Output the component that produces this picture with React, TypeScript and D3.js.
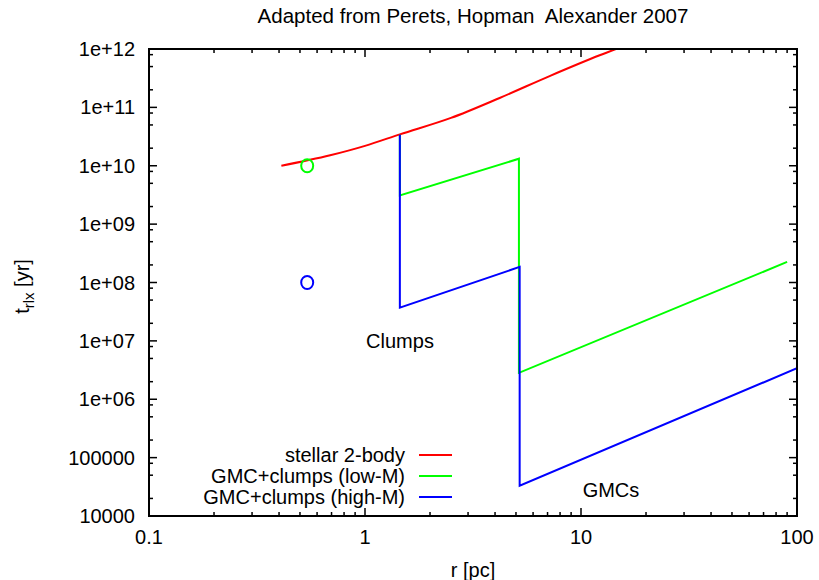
import React from "react";
import * as d3 from "d3";

const W = 819, H = 580;
const M = { left: 149, right: 797, top: 49, bottom: 516 };

const xTickVals = [0.1, 1, 10, 100];
const xTickLabels = ["0.1", "1", "10", "100"];
const yTickVals = [1e4, 1e5, 1e6, 1e7, 1e8, 1e9, 1e10, 1e11, 1e12];
const yTickLabels = ["10000", "100000", "1e+06", "1e+07", "1e+08", "1e+09", "1e+10", "1e+11", "1e+12"];
const xMinorMult = [2, 3, 4, 5, 6, 7, 8, 9];
const yMinorMult = [2, 5, 8];

// stellar 2-body relaxation time
const stellarR = [0.41, 0.69, 1.0, 1.45, 2.5, 4.2, 7.2, 12.2, 14.5, 20];
const stellarT = [1e10, 1.51e10, 2.19e10, 3.45e10, 6.6e10, 1.45e11, 3.47e11, 7.8e11, 1.0e12, 1.7e12];

// GMC+clumps (low-M)
const lowR = [1.45, 1.45, 5.16, 5.16, 90];
const lowT = [3.4e10, 3.1e9, 1.32e10, 2.83e6, 2.25e8];

// GMC+clumps (high-M)
const highR = [1.45, 1.45, 5.2, 5.2, 100];
const highT = [3.4e10, 3.7e7, 1.85e8, 3.3e4, 3.4e6];

// single points
const pointR = [0.54, 0.54];
const pointT = [1e10, 1e8];
const pointColors = ["#00ff00", "#0000ff"];

const seriesNames = ["stellar 2-body", "GMC+clumps (low-M)", "GMC+clumps (high-M)"];
const seriesColors = ["#ff0000", "#00ff00", "#0000ff"];

const FONT = "'Liberation Sans', Arial, Helvetica, sans-serif";

export default function App() {
  const x = d3.scaleLog().domain([0.1, 100]).range([M.left, M.right]);
  const y = d3.scaleLog().domain([1e4, 1e12]).range([M.bottom, M.top]);

  const line = d3
    .line<[number, number]>()
    .x((d) => x(d[0]))
    .y((d) => y(d[1]));
  const curve = d3
    .line<[number, number]>()
    .x((d) => x(d[0]))
    .y((d) => y(d[1]))
    .curve(d3.curveMonotoneX);

  const zip = (a: number[], b: number[]) => a.map((v, i) => [v, b[i]] as [number, number]);

  const xMinor: number[] = [];
  for (let k = 0.1; k < 100; k *= 10) xMinorMult.forEach((m) => xMinor.push(k * m));
  const yMinor: number[] = [];
  for (let e = 4; e < 12; e++) yMinorMult.forEach((m) => yMinor.push(m * Math.pow(10, e)));

  const fs = 20;
  const major = 8, minor = 4;

  return (
    <svg width={W} height={H} style={{ display: "block", position: "absolute", left: 0, top: 0 }} fontFamily={FONT}>
      <rect width={W} height={H} fill="#fff" />
      <defs>
        <clipPath id="plotclip">
          <rect x={M.left} y={M.top} width={M.right - M.left} height={M.bottom - M.top} />
        </clipPath>
      </defs>

      {/* title */}
      <text x={(M.left + M.right) / 2} y={23} textAnchor="middle" fontSize={20.5} style={{ whiteSpace: "pre" }}>
        {"Adapted from Perets, Hopman  Alexander 2007"}
      </text>

      {/* ticks */}
      <g stroke="#000" strokeWidth={1.5}>
        {xTickVals.map((v) => (
          <g key={"xt" + v}>
            <line x1={x(v)} x2={x(v)} y1={M.bottom} y2={M.bottom - major} />
            <line x1={x(v)} x2={x(v)} y1={M.top} y2={M.top + major} />
          </g>
        ))}
        {xMinor.map((v) => (
          <g key={"xm" + v}>
            <line x1={x(v)} x2={x(v)} y1={M.bottom} y2={M.bottom - minor} />
            <line x1={x(v)} x2={x(v)} y1={M.top} y2={M.top + minor} />
          </g>
        ))}
        {yTickVals.map((v) => (
          <g key={"yt" + v}>
            <line x1={M.left} x2={M.left + major} y1={y(v)} y2={y(v)} />
            <line x1={M.right} x2={M.right - major} y1={y(v)} y2={y(v)} />
          </g>
        ))}
        {yMinor.map((v) => (
          <g key={"ym" + v}>
            <line x1={M.left} x2={M.left + minor} y1={y(v)} y2={y(v)} />
            <line x1={M.right} x2={M.right - minor} y1={y(v)} y2={y(v)} />
          </g>
        ))}
      </g>

      {/* tick labels */}
      {xTickVals.map((v, i) => (
        <text key={"xl" + v} x={x(v)} y={544} textAnchor="middle" fontSize={fs}>
          {xTickLabels[i]}
        </text>
      ))}
      {yTickVals.map((v, i) => (
        <text key={"yl" + v} x={135} y={y(v) + 7} textAnchor="end" fontSize={fs}>
          {yTickLabels[i]}
        </text>
      ))}

      {/* axis labels */}
      <text x={(M.left + M.right) / 2} y={577} textAnchor="middle" fontSize={fs}>
        r [pc]
      </text>
      <text transform={`translate(29,${(M.top + M.bottom) / 2 + 4}) rotate(-90)`} textAnchor="middle" fontSize={fs}>
        t<tspan fontSize={15} dy={5}>rlx</tspan>
        <tspan dy={-5}> [yr]</tspan>
      </text>

      {/* data */}
      <g clipPath="url(#plotclip)" fill="none" strokeWidth={2}>
        <path d={curve(zip(stellarR, stellarT)) || ""} stroke={seriesColors[0]} />
        <path d={line(zip(lowR, lowT)) || ""} stroke={seriesColors[1]} />
        <path d={line(zip(highR, highT)) || ""} stroke={seriesColors[2]} />
      </g>
      {pointR.map((r, i) => (
        <ellipse key={"p" + i} cx={x(r)} cy={y(pointT[i])} rx={6} ry={6.5} fill="none" stroke={pointColors[i]} strokeWidth={2} />
      ))}

      {/* annotations */}
      <text x={400} y={348} textAnchor="middle" fontSize={fs}>Clumps</text>
      <text x={611} y={497} textAnchor="middle" fontSize={fs}>GMCs</text>

      {/* legend */}
      {seriesNames.map((n, i) => (
        <g key={n}>
          <text x={405} y={455 + i * 21 + 7} textAnchor="end" fontSize={fs}>{n}</text>
          <line x1={419} x2={452} y1={455 + i * 21} y2={455 + i * 21} stroke={seriesColors[i]} strokeWidth={2} />
        </g>
      ))}

      {/* frame */}
      <rect x={M.left} y={M.top} width={M.right - M.left} height={M.bottom - M.top} fill="none" stroke="#000" strokeWidth={2} />
    </svg>
  );
}
